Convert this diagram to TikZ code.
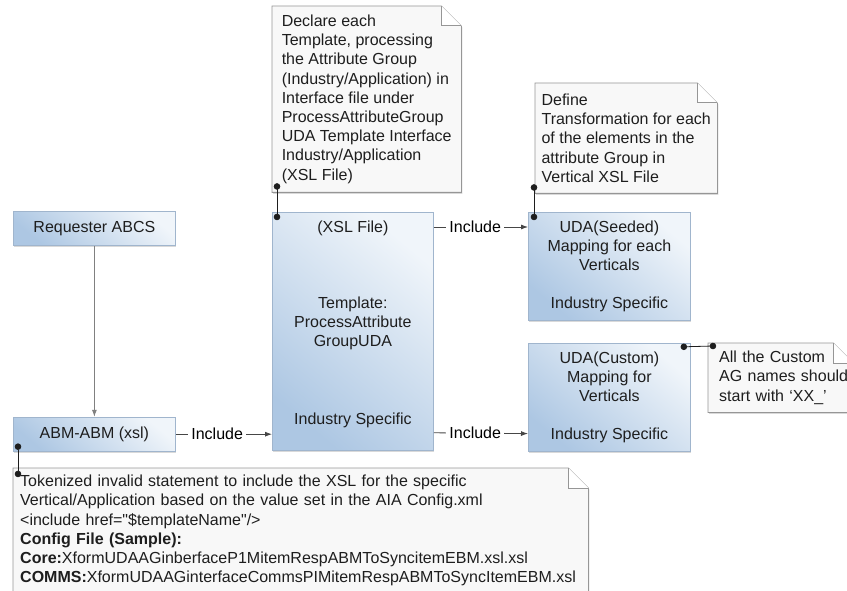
\documentclass[tikz,border=0pt]{standalone}
\usepackage{fontspec}
\setmainfont{Liberation Sans}
\usepackage{xcolor}
\usetikzlibrary{positioning, arrows.meta, shadows, backgrounds}

\definecolor{boxdark}{RGB}{173,199,227}
\definecolor{boxlight}{RGB}{240,245,250}
\definecolor{boxline}{RGB}{160,181,205}
\definecolor{notefill}{RGB}{248,248,248}
\definecolor{noteline}{RGB}{150,150,150}
\definecolor{inkgray}{RGB}{30,30,30}
\definecolor{wiregray}{RGB}{70,70,70}

\tikzset{
  box/.style={draw=boxline, line width=0.8pt, top color=boxlight, bottom color=boxdark, shading angle=-40,
    drop shadow={shadow xshift=1pt, shadow yshift=-1.5pt, opacity=0.3},
    align=center, text=inkgray, inner sep=0pt, anchor=north west},
  note/.style={align=left, text=inkgray, anchor=north west, inner ysep=0pt},
  paper/.style={fill=notefill, draw=noteline, line width=0.8pt,
    drop shadow={shadow xshift=1pt, shadow yshift=-1.5pt, opacity=0.3}},
  include/.style={draw=wiregray, line width=0.8pt, -{Latex[length=7pt,width=5pt]}},
  pin/.style={draw=inkgray, line width=0.8pt, {Circle[length=6.5pt]}-{Circle[length=6.5pt]},
    shorten <=-3.2pt, shorten >=-3.2pt},
}

% dog-eared sheet behind a note node
\newcommand{\notesheet}[2][0pt]{%
  \begin{scope}[on background layer]
    \path[paper] (#2.north west) -- ([xshift=-20pt]#2.north east) -- ([yshift=-20pt]#2.north east)
      -- ([yshift=-#1]#2.south east) -- ([yshift=-#1]#2.south west) -- cycle;
    \draw[draw=noteline, line width=1pt, fill=white] ([xshift=-20pt]#2.north east)
      -- ([xshift=-20pt,yshift=-20pt]#2.north east) -- ([yshift=-20pt]#2.north east);
  \end{scope}}

\begin{document}
\begin{tikzpicture}[x=1pt, y=-1pt, font=\fontsize{16}{19.2}\selectfont, node distance=0pt]
  \useasboundingbox (0,0) rectangle (847,591);

  % Boxes
  \node[box, minimum width=162pt, minimum height=34pt] (requester) at (13,211) {Requester ABCS};
  \node[box, minimum width=162pt, minimum height=34pt, below=171pt of requester] (abm) {ABM-ABM (xsl)};
  \node[box, minimum width=161pt, minimum height=238pt, text depth=18pt] (tmpl) at (272,212)
    {(XSL File)\\[57pt]Template:\\ProcessAttribute\\GroupUDA\\[58pt]Industry Specific};
  \node[box, minimum width=162pt, minimum height=108pt] (seeded) at (528,212)
    {UDA(Seeded)\\Mapping for each\\Verticals\\[19pt]Industry Specific};
  \node[box, minimum width=162pt, minimum height=108pt, below=22pt of seeded] (custom)
    {UDA(Custom)\\Mapping for\\Verticals\\[18pt]Industry Specific};

  % Notes
  \node[note, minimum width=189pt, minimum height=186pt, inner xsep=0pt] (declare) at (272,6)
    {Declare each\\Template, processing\\the Attribute Group\\(Industry/Application) in\\Interface file under\\ProcessAttributeGroup\\UDA Template Interface\\Industry/Application\\(XSL File)};
  \node[note, minimum width=182pt, minimum height=110pt, inner xsep=0pt] (define) at (535,83)
    {Define\\Transformation for each\\of the elements in the\\attribute Group in\\Vertical XSL File};
  \node[note, text width=123pt, minimum height=69pt, inner xsep=11pt] (agnote) at (708,343)
    {All~the~Custom\\AG~names~should\\start~with~‘XX\_’};
  \node[note, text width=561pt, inner xsep=7pt, inner ysep=7pt] (tokens) at (13,468)
    {Tokenized invalid statement to include the XSL for the specific\\
     Vertical/Application based on the value set in the AIA Config.xml\\
     <include href=\textquotedbl\$templateName\textquotedbl/>\\
     \textbf{Config File (Sample):}\\
     \textbf{Core:}XformUDAAGinberfaceP1MitemRespABMToSyncitemEBM.xsl.xsl\\
     \textbf{COMMS:}XformUDAAGinterfaceCommsPIMitemRespABMToSyncItemEBM.xsl};
  \notesheet{declare}
  \notesheet{define}
  \notesheet{agnote}
  \notesheet[40pt]{tokens}

  % Connectors
  \draw[include, draw=gray] (requester) -- (abm);
  \draw[include] (abm.east) -- node[pos=0.43, fill=white, inner sep=3pt] (inc0) {Include} (abm.east -| tmpl.west);
  \draw[include] ([yshift=-15pt]tmpl.north east) -- node[pos=0.44, fill=white, inner sep=3pt] (inc1) {Include} ([yshift=-15pt]seeded.north west);
  \draw[include] ([yshift=18pt]tmpl.south east) -- node[pos=0.44, fill=white, inner sep=3pt] (inc2) {Include} ([yshift=18pt]custom.south west);

  \draw[pin] ([xshift=5pt,yshift=6pt]declare.south west) -- ([xshift=5pt,yshift=-5pt]tmpl.north west);
  \draw[pin] ([xshift=-1pt,yshift=6pt]define.south west) -- ([xshift=6pt,yshift=-5pt]seeded.north west);
  \draw[pin] ([xshift=-7pt,yshift=-4pt]custom.north east) -- ([xshift=5pt,yshift=-3pt]agnote.north west);
  \draw[pin] ([xshift=5pt,yshift=5pt]abm.south west) -- ([xshift=5pt,yshift=-6pt]tokens.north west);
\end{tikzpicture}
\end{document}
